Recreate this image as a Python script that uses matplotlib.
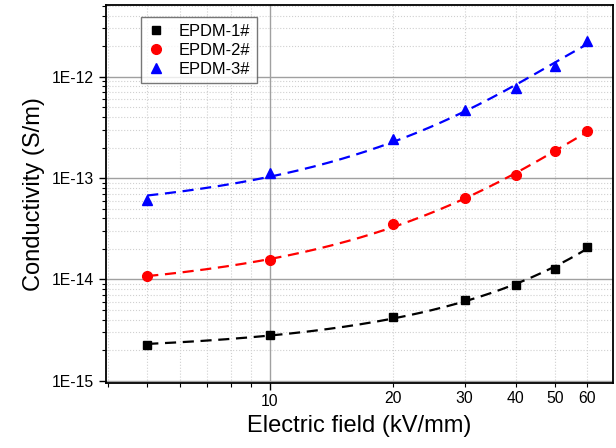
import numpy as np
import matplotlib
matplotlib.use('Agg')
import matplotlib.pyplot as plt
from matplotlib.ticker import LogLocator, FixedLocator, NullFormatter, FixedFormatter

plt.rcParams['font.family'] = ['Liberation Sans', 'DejaVu Sans']

# 数据：电场强度 (kV/mm) 与电导率 (S/m)
FIELD = [5, 10, 20, 30, 40, 50, 60]
EPDM1 = [2.25e-15, 2.8e-15, 4.3e-15, 6.2e-15, 8.8e-15, 1.27e-14, 2.1e-14]
EPDM2 = [1.07e-14, 1.55e-14, 3.5e-14, 6.3e-14, 1.06e-13, 1.86e-13, 2.9e-13]
EPDM3 = [6.1e-14, 1.12e-13, 2.4e-13, 4.7e-13, 7.8e-13, 1.27e-12, 2.25e-12]

SERIES = [('EPDM-1#', EPDM1, 'black', 's', 6),
          ('EPDM-2#', EPDM2, 'red', 'o', 7),
          ('EPDM-3#', EPDM3, 'blue', '^', 7.5)]

fig = plt.figure(figsize=(6.16, 4.48), dpi=100)
ax = fig.add_axes([0.172, 0.146, 0.823, 0.843])
ax.set_xscale('log')
ax.set_yscale('log')

x = np.array(FIELD, dtype=float)
xf = np.linspace(x.min(), x.max(), 200)
for label, vals, color, marker, ms in SERIES:
    y = np.array(vals)
    # 拟合曲线（log(y) 对 x 二次拟合）
    p = np.polyfit(x, np.log10(y), 2)
    ax.plot(xf, 10 ** np.polyval(p, xf), '--', color=color, lw=1.6,
            dashes=(5, 3), zorder=3)
    ax.plot(x, y, linestyle='none', marker=marker, color=color, ms=ms,
            label=label, zorder=4)

ax.set_xlim(3.96, 69.3)
ax.set_ylim(0.96e-15, 5.1e-12)

ax.xaxis.set_major_locator(FixedLocator([10]))
ax.xaxis.set_major_formatter(FixedFormatter(['10']))
ax.xaxis.set_minor_locator(FixedLocator([4, 5, 6, 7, 8, 9, 20, 30, 40, 50, 60]))
ax.xaxis.set_minor_formatter(FixedFormatter(['', '', '', '', '', '', '20', '30', '40', '50', '60']))

ax.yaxis.set_major_locator(FixedLocator([1e-15, 1e-14, 1e-13, 1e-12]))
ax.yaxis.set_major_formatter(FixedFormatter(['1E-15', '1E-14', '1E-13', '1E-12']))
ax.yaxis.set_minor_locator(LogLocator(base=10, subs=np.arange(2, 10), numticks=20))
ax.yaxis.set_minor_formatter(NullFormatter())

ax.tick_params(which='both', direction='out', labelsize=11.3, top=False, right=False)
ax.tick_params(which='major', length=5, width=1)
ax.tick_params(which='minor', length=3, width=0.8)

ax.grid(which='major', color='#a0a0a0', lw=1.0, ls='-')
ax.grid(which='minor', color='#d0d0d0', lw=0.8, ls=':')
ax.set_axisbelow(True)

for s in ax.spines.values():
    s.set_linewidth(1.3)

ax.set_xlabel('Electric field (kV/mm)', fontsize=17, labelpad=4)
ax.set_ylabel('Conductivity (S/m)', fontsize=17, labelpad=5)

leg = ax.legend(loc='upper left', bbox_to_anchor=(0.069, 0.968), fontsize=11.9,
                frameon=True, fancybox=False, handlelength=1.0, borderaxespad=0,
                handletextpad=0.9, borderpad=0.4, labelspacing=0.25)
leg.get_frame().set_edgecolor('#555555')
leg.get_frame().set_linewidth(1.0)

fig.savefig('out.png', dpi=100)
